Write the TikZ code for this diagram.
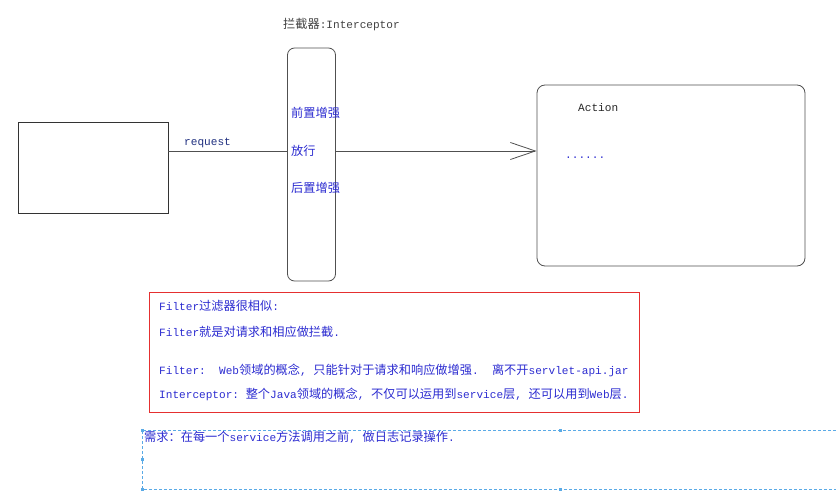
\documentclass[tikz,border=0pt]{standalone}
\usepackage{fontspec}
\setmonofont{Liberation Mono}
\newfontfamily\cjk{Noto Sans CJK SC}
\usepackage{tikz}
\usetikzlibrary{positioning}
\usetikzlibrary{arrows.meta}
\usetikzlibrary{calc}

\newcommand{\zh}[1]{{\cjk\fontsize{12.2}{14}\selectfont #1}}
\definecolor{txtblue}{HTML}{2B2BD0}
\definecolor{navy}{HTML}{1F2F7F}
\definecolor{linegray}{HTML}{505050}
\definecolor{boxred}{HTML}{E53030}
\definecolor{dashblue}{HTML}{5AAAE6}

\begin{document}
\begin{tikzpicture}[x=1pt, y=-1pt,
  every node/.style={inner sep=0pt, font=\ttfamily\fontsize{11.1}{13}\selectfont},
  frame/.style={draw=linegray, line width=0.8pt},
  note/.style={anchor=west, text=txtblue}]

        \useasboundingbox (0,0) rectangle (836,495);

        % Client box on the left
        \node[frame, draw=black!80, minimum width=150pt, minimum height=91pt] (client) at (93,167.5) {};

        % Interceptor bar
        \node[frame, rounded corners=7pt, minimum width=48pt, minimum height=233pt] (bar) at (311.5,164.5) {};
        \node[anchor=west, text=black!75] (title) at (283,25) {\zh{拦截器}:Interceptor};

        % Texts inside the bar
        \node[note] (pre) at (291,113) {\zh{前置增强}};
        \node[note] (pass) at (291,151) {\zh{放行}};
        \node[note] (post) at (291,188) {\zh{后置增强}};

        % Action box
        \node[frame, rounded corners=8pt, minimum width=268pt, minimum height=181pt] (action) at (671,175.5) {};
        \node[anchor=west, text=black!85] (acttitle) at (578,108) {Action};
        \node[note] (dots) at (565,158) {......};

        % Request passing through the bar
        \draw[frame] (client.east |- pass.west) -- (bar.west |- pass.west);
        \draw[frame, -{Straight Barb[length=25pt, width=17pt]}] (bar.east |- pass.west) -- (action.west |- pass.west);
        \node[anchor=west, text=navy] (req) at (184,143) {request};

        % Red note box
        \node[draw=boxred, line width=0.8pt, minimum width=490pt, minimum height=120pt] (notes) at (394,352) {};
        \node[note] (n1) at (159,306) {Filter\zh{过滤器很相似}:};
        \node[note] (n2) at (159,332) {Filter\zh{就是对请求和相应做拦截}.};
        \node[note] (n3) at (159,370) {Filter:\ \ Web\zh{领域的概念}, \zh{只能针对于请求和响应做增强}.\ \ \zh{离不开}servlet-api.jar};
        \node[note] (n4) at (159,394) {Interceptor: \zh{整个}Java\zh{领域的概念}, \zh{不仅可以运用到}service\zh{层}, \zh{还可以用到}Web\zh{层}.};

        % Dashed selection box, cut at the right edge
        \draw[dashblue, line width=0.8pt, dash pattern=on 3pt off 2pt] (836,430) -- (142,430) -- (142,489) -- (836,489);
        \foreach \p in {(142,430), (142,459.5), (142,489), (560,430), (560,489)} {
          \fill[dashblue] \p ++(-1.5,-1.5) rectangle ++(3,3);
        }
        \node[note] (need) at (144,437) {\zh{需求：在每一个}service\zh{方法调用之前}, \zh{做日志记录操作}.};

      \end{tikzpicture}
\end{document}
